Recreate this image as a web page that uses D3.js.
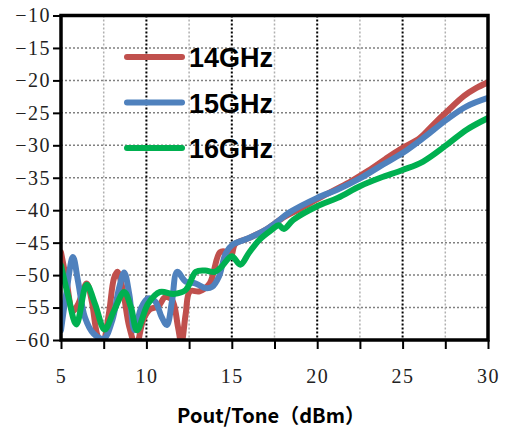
<!DOCTYPE html>
<html>
<head>
<meta charset="utf-8">
<script src="https://cdn.jsdelivr.net/npm/d3@7"></script>
<style>
  body { margin: 0; background: #fff; }
</style>
</head>
<body>
<script>
// data (x = Pout/Tone in dBm)
var x14 = [5.0, 5.3, 5.7, 6.0, 6.5, 6.8, 7.1, 7.4, 7.8, 8.1, 8.3, 8.6, 9.0, 9.4, 9.8, 10.2, 10.7, 11.1, 11.5, 11.85, 12.05, 12.3, 12.55, 13.1, 13.7, 14.3, 14.65, 14.95, 15.2, 16, 17, 18.1, 19, 20, 21, 22, 23, 24, 25, 26, 26.8, 27.6, 28.6, 29.3, 30];
var y14 = [-46.5, -50.5, -55.5, -54.5, -51.3, -54, -59, -61, -56, -50.5, -49.5, -52, -58, -61, -57, -55.3, -54.8, -53.4, -53.8, -58, -60.5, -56, -52.5, -52.5, -51.3, -46.5, -46.4, -47.1, -45.2, -44.3, -43, -41, -39.8, -38.3, -36.9, -35.5, -33.9, -32.1, -30.4, -28.9, -26.8, -24.8, -22.4, -21.2, -20.3];

var x15 = [5.0, 5.3, 5.7, 6.0, 6.4, 6.9, 7.5, 8.0, 8.4, 8.7, 9.0, 9.3, 9.7, 10.1, 10.5, 10.9, 11.2, 11.5, 11.8, 12.3, 12.9, 13.45, 13.85, 14.25, 14.65, 15.05, 16, 17, 17.55, 18.4, 20, 21.2, 22.5, 23.7, 25, 26.2, 27.6, 28.75, 30];
var y15 = [-58.5, -53, -47.2, -51, -56.5, -59, -59.8, -57, -52, -49.6, -53, -58.5, -55, -53.6, -54, -56.5, -57.7, -54, -49.5, -51, -51.3, -52, -51.8, -50.2, -46.6, -45.3, -44.3, -43, -42, -40.3, -38.1, -36.8, -35.1, -33.2, -31.2, -28.9, -26, -24, -22.7];

var x16 = [5.0, 5.4, 5.9, 6.5, 7.0, 7.55, 8.1, 8.7, 9.1, 9.45, 10.1, 10.8, 11.6, 12.3, 12.9, 13.45, 14.0, 14.4, 15.0, 15.5, 16.0, 16.6, 17.35, 17.75, 18.05, 18.6, 20, 21.2, 22.5, 23.7, 25, 26.2, 27.6, 28.75, 30];
var y16 = [-48.5, -53, -57.6, -51.5, -54.5, -58.4, -55.5, -52.6, -55, -58.5, -54.4, -52.6, -52.9, -52.3, -49.5, -49.3, -49.5, -48.7, -47.1, -48.4, -46.6, -44.6, -43, -42.3, -42.9, -41.5, -39.4, -38.1, -36.3, -35, -33.8, -32.5, -29.9, -27.6, -25.8];

var seriesNames = ['14GHz', '15GHz', '16GHz'];
var seriesColors = ['#c0504d', '#4f81bd', '#00b050'];
var xTicks = [5, 10, 15, 20, 25, 30];
var yTicks = [-10, -15, -20, -25, -30, -35, -40, -45, -50, -55, -60];

var svg = d3.select("body")
    .append("svg")
    .attr("width", 509)
    .attr("height", 431)
    .style('display', 'block');

var pLeft = 61, pRight = 488, pTop = 15.5, pBottom = 340;

var x = d3.scaleLinear().domain([5, 30]).range([pLeft, pRight]);
var y = d3.scaleLinear().domain([-60, -10]).range([pBottom, pTop]);

// grid
var grid = svg.append('g');
grid.selectAll('.hgrid')
    .data(yTicks.filter(function (d) { return d > -60 && d < -10; }))
    .enter()
    .append('line')
    .attr('x1', pLeft).attr('x2', pRight)
    .attr('y1', function (d) { return y(d); })
    .attr('y2', function (d) { return y(d); })
    .attr('stroke', '#808080')
    .attr('stroke-width', 1.5)
    .attr('stroke-dasharray', '2,2');

var vx = d3.range(7.5, 30, 2.5);
grid.selectAll('.vgrid')
    .data(vx)
    .enter()
    .append('line')
    .attr('x1', function (d) { return x(d); })
    .attr('x2', function (d) { return x(d); })
    .attr('y1', pTop).attr('y2', pBottom)
    .attr('stroke', function (d) { return d % 5 === 0 ? '#000' : '#b0b0b0'; })
    .attr('stroke-width', function (d) { return d % 5 === 0 ? 2 : 1.5; })
    .attr('stroke-dasharray', '2,2');

// lines
svg.append('clipPath').attr('id', 'plot')
    .append('rect')
    .attr('x', pLeft).attr('y', pTop)
    .attr('width', pRight - pLeft).attr('height', pBottom - pTop);

var line = d3.line()
    .x(function (d) { return x(d[0]); })
    .y(function (d) { return y(d[1]); })
    .curve(d3.curveCatmullRom.alpha(0.5));

var series = [d3.zip(x14, y14), d3.zip(x15, y15), d3.zip(x16, y16)];

svg.append('g')
    .attr('clip-path', 'url(#plot)')
    .selectAll('path')
    .data(series)
    .enter()
    .append('path')
    .attr('d', line)
    .attr('fill', 'none')
    .attr('stroke', function (d, i) { return seriesColors[i]; })
    .attr('stroke-width', 6)
    .attr('stroke-linejoin', 'round')
    .attr('stroke-linecap', 'round');

// axes
var xAxis = svg.append('g')
    .attr('transform', 'translate(0,' + pBottom + ')')
    .call(d3.axisBottom(x).tickValues(d3.range(5, 30.1, 2.5)).tickSize(9).tickPadding(20)
        .tickFormat(function (d) { return d % 5 === 0 ? d : ''; }));

var yAxis = svg.append('g')
    .attr('transform', 'translate(' + pLeft + ',0)')
    .call(d3.axisLeft(y).tickValues(yTicks).tickSize(8).tickPadding(2));

[xAxis, yAxis].forEach(function (a) {
    a.select('.domain').remove();
    a.selectAll('line').attr('stroke', '#000').attr('stroke-width', 2);
    a.selectAll('text')
        .style('font-family', '"Liberation Serif", "Times New Roman", serif')
        .style('font-size', '20px')
        .style('letter-spacing', '1.5px')
        .attr('fill', '#222');
});

// frame
svg.append('rect')
    .attr('x', pLeft).attr('y', pTop)
    .attr('width', pRight - pLeft).attr('height', pBottom - pTop)
    .attr('fill', 'none')
    .attr('stroke', '#000')
    .attr('stroke-width', 3.5);

// legend
var legend = svg.append('g');
seriesNames.forEach(function (name, i) {
    var ly = 57 + i * 45.5;
    legend.append('line')
        .attr('x1', 127).attr('x2', 182)
        .attr('y1', ly).attr('y2', ly)
        .attr('stroke', seriesColors[i])
        .attr('stroke-width', 6)
        .attr('stroke-linecap', 'round');
    legend.append('text')
        .attr('x', 189)
        .attr('y', ly + 10)
        .text(name)
        .style('font-family', 'Liberation Sans, Arial, sans-serif')
        .style('font-weight', 'bold')
        .style('font-size', '27px')
        .attr('fill', '#000');
});

// axis title
svg.append('text')
    .attr('x', 271)
    .attr('y', 423)
    .attr('text-anchor', 'middle')
    .text('Pout/Tone（dBm）')
    .style('font-family', 'Noto Sans CJK SC, sans-serif')
    .style('font-weight', 'bold')
    .style('font-size', '20px');
</script>
</body>
</html>
